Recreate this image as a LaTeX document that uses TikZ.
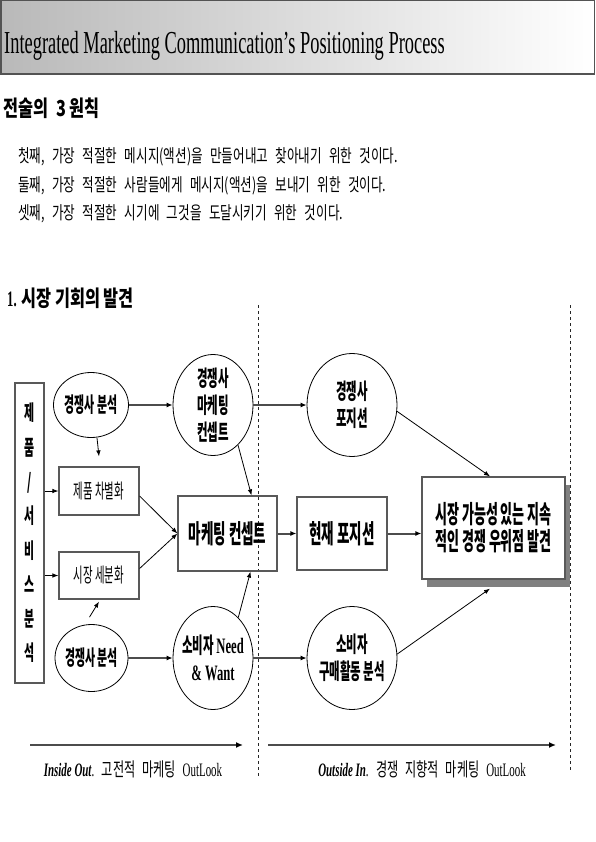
\documentclass[tikz,border=0pt]{standalone}
\usepackage{fontspec}
\setmainfont{Liberation Serif}
\newfontfamily\ttlfont[FakeStretch=0.575]{Liberation Serif}
\newfontfamily\krhead[FakeStretch=0.74]{Noto Sans CJK KR}
\newfontfamily\krtext[FakeStretch=0.7,WordSpace=2.6]{Noto Sans CJK KR}
\newfontfamily\krlbl[FakeStretch=0.64,WordSpace=2.5]{Noto Sans CJK KR}
\newfontfamily\krdiag[FakeStretch=0.52]{Noto Sans CJK KR}
\usepackage{tikz}
\usetikzlibrary{arrows}
\usetikzlibrary{arrows.meta}
\usetikzlibrary{shapes.geometric}
\usetikzlibrary{shadows}
\newcommand{\dgsize}{\fontsize{22}{27}\selectfont}
\newcommand{\en}[1]{{\ttlfont\bfseries #1}}

\tikzset{
  bx/.style={draw=gray!70!black, line width=1.2pt, rectangle, inner sep=0pt},
  el/.style={draw, line width=0.8pt, ellipse, inner sep=0pt},
  dg/.style={font=\krdiag\bfseries\dgsize, align=center, inner sep=0pt},
  dgbig/.style={font=\krdiag\bfseries\fontsize{26}{28}\selectfont, align=center, inner sep=0pt},
  dglight/.style={font=\krdiag\fontsize{20}{24}\selectfont, align=center, inner sep=0pt},
  harr/.style={draw=gray!60!black, line width=2pt, arrows={-Latex[length=6pt,width=5pt,color=black]}},
  arr/.style={line width=0.8pt, arrows={-Latex[length=6pt,width=4.5pt]}},
  bigarr/.style={draw=gray!60!black, line width=2.6pt, arrows={-Latex[length=7pt,width=6pt,color=black]}},
  para/.style={anchor=west, inner sep=0pt, font=\krtext\fontsize{18}{20}\selectfont}
}

\begin{document}
\begin{tikzpicture}[x=1pt,y=-1pt]
\useasboundingbox (0,0) rectangle (595,842);

% title banner
\shade[left color=gray!55, right color=white] (0,0) rectangle (595,75);
\draw[gray!65!black, line width=1.5pt] (0.75,0.75) rectangle (594.25,74.25);
\node[anchor=base west, inner sep=0pt, font=\ttlfont\fontsize{32}{36}\selectfont] (title) at (4,54)
  {Integrated Marketing Communication’s Positioning Process};

% three principles
\node[anchor=west, inner sep=0pt, font=\krhead\bfseries\fontsize{22}{24}\selectfont] (head) at (3,108)
  {전술의\hspace{8pt}3\hspace{3pt}원칙};
\node[para] (p1) at (18,157) {첫째, 가장 적절한 메시지(액션)을 만들어내고 찾아내기 위한 것이다.};
\node[para] (p2) at (18,186) {둘째, 가장 적절한 사람들에게 메시지(액션)을 보내기 위한 것이다.};
\node[para] (p3) at (18,214) {셋째, 가장 적절한 시기에 그것을 도달시키기 위한 것이다.};

\node[anchor=west, inner sep=0pt, font=\krhead\bfseries\fontsize{22}{26}\selectfont] (sec) at (7,298)
  {\en{1.} 시장 기회의 발견};

% dashed separators
\draw[dashed, gray!30!black, line width=0.7pt] (258,305) -- (258,776);
\draw[dashed, gray!30!black, line width=0.7pt] (570,305) -- (570,770);

% left column
\node[bx, minimum width=29pt, minimum height=300pt, font=\krdiag\bfseries\fontsize{21}{34.3}\selectfont, align=center] (sb) at (29.5,533)
  {제\\품\\/\\서\\비\\스\\분\\석};
\node[el, minimum width=75pt, minimum height=65pt] (e1) at (91,405) {};
\node[dg, font=\krdiag\bfseries\fontsize{21}{25}\selectfont] (e1t) at (e1) {경쟁사 분석};
\node[el, minimum width=73pt, minimum height=67pt] (e2) at (91.5,658) {};
\node[dg, font=\krdiag\bfseries\fontsize{21}{25}\selectfont] (e2t) at (e2) {경쟁사 분석};
\node[bx, minimum width=80pt, minimum height=48pt, dglight] (bdiff) at (99,491) {제품 차별화};
\node[bx, minimum width=80pt, minimum height=47pt, dglight] (bseg) at (99,575.5) {시장 세분화};

% middle column
\node[el, minimum width=80pt, minimum height=101pt] (cmc) at (213,405) {};
\node[dg] (cmct) at (cmc) {경쟁사\\마케팅\\컨셉트};
\node[bx, minimum width=99pt, minimum height=75pt, dgbig] (bmc) at (227.5,533.5) {마케팅 컨셉트};
\node[el, minimum width=80pt, minimum height=103pt] (cnw) at (213,658) {};
\node[dg] (cnwt) at (cnw) {소비자 \en{Need}\\\en{\& Want}};

% right part
\node[el, minimum width=90pt, minimum height=103pt] (cpos) at (352,405) {};
\node[dg] (cpost) at (cpos) {경쟁사\\포지션};
\node[bx, minimum width=90pt, minimum height=73pt, dgbig] (bpos) at (342,533.5) {현재 포지션};
\node[el, minimum width=90pt, minimum height=103pt] (cbuy) at (352,658) {};
\node[dg] (cbuyt) at (cbuy) {소비자\\구매활동 분석};
\node[bx, fill=white, minimum width=143pt, minimum height=102pt, dg, font=\krdiag\bfseries\fontsize{25}{27}\selectfont,
  drop shadow={shadow xshift=5pt, shadow yshift=-8pt, fill=gray, opacity=1}] (bfin) at (493.5,528)
  {시장 가능성 있는 지속\\적인 경쟁 우위점 발견};

% connectors
\draw[arr] (sb.east |- bdiff.west) -- (bdiff.west);
\draw[arr] (sb.east |- bseg.west) -- (bseg.west);
\draw[arr] ([xshift=6pt]e1.south) -- ([yshift=10pt]bdiff.north);
\draw[arr] ([xshift=-2pt,yshift=7pt]e2.north) -- ([yshift=-2pt]bseg.south);
\draw[arr] ([yshift=-5pt]bdiff.east) -- (bmc.west);
\draw[arr] ([yshift=7pt]bseg.east) -- (bmc.west);
\draw[harr] (e1) -- (cmc);
\draw[harr] (e2) -- (cnw);
\draw[arr] (cmc.-58) -- ([xshift=24pt]bmc.north);
\draw[arr] (cnw.58) -- ([xshift=23pt]bmc.south);
\draw[harr] (cmc) -- (cpos);
\draw[harr] (cnw) -- (cbuy);
\draw[harr] (bmc) -- (bpos);
\draw[harr] (bpos.east) -- (bpos.east -| bfin.west);
\draw[arr] (cpos.-8) -- ([xshift=-3.5pt]bfin.north);
\draw[arr] (cbuy.5) -- ([xshift=-3.5pt,yshift=-9pt]bfin.south);

% outlook arrows
\coordinate (io1) at (30,745);
\coordinate (io2) at (243,745);
\coordinate (oi1) at (268,745);
\coordinate (oi2) at (556,745);
\draw[bigarr] (io1) -- (io2);
\draw[bigarr] (oi1) -- (oi2);
\node[inner sep=0pt, font=\krlbl\fontsize{19}{22}\selectfont] (lin) at (133,769)
  {{\ttlfont\bfseries\itshape Inside Out}{\ttlfont .} 고전적 마케팅 {\ttlfont OutLook}};
\node[inner sep=0pt, font=\krlbl\fontsize{19}{22}\selectfont] (lout) at (422,769)
  {{\ttlfont\bfseries\itshape Outside In}{\ttlfont .} 경쟁 지향적 마케팅 {\ttlfont OutLook}};
\end{tikzpicture}
\end{document}
